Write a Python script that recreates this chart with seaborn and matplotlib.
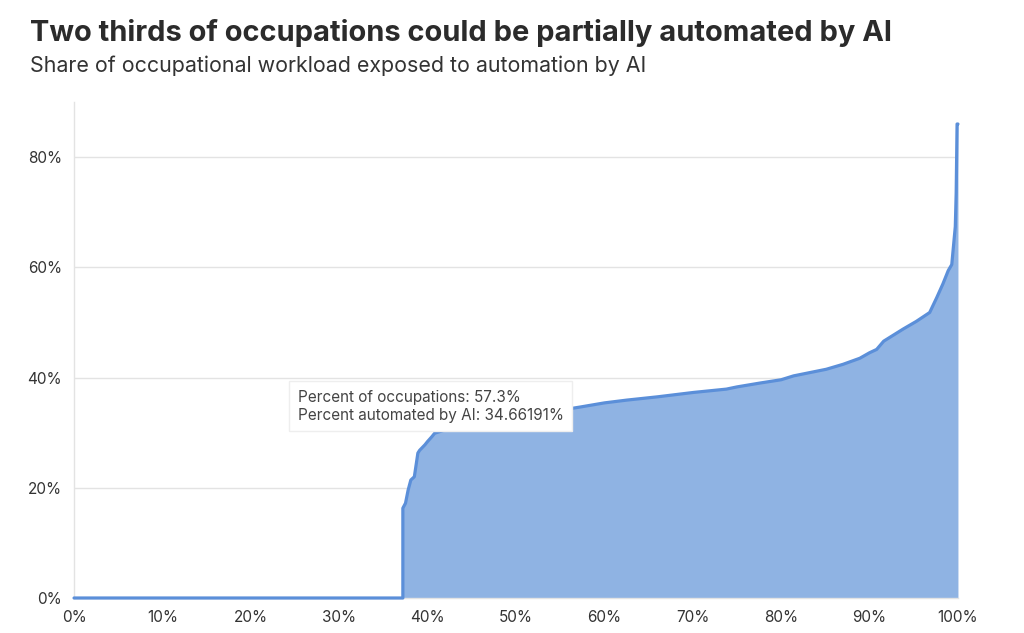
import numpy as np
import pandas as pd
import seaborn as sns
import matplotlib.pyplot as plt
from matplotlib.ticker import PercentFormatter

# curve (percent of occupations vs percent automated)
pct_occupations = [0, 37.2, 37.2, 37.5, 37.8, 38.1, 38.5, 38.9, 39.1, 39.7, 40.0, 40.5,
                   40.8, 41.8, 43.3, 46.0, 50.0, 53.0, 55.7, 56.3, 57.3, 60.0, 62.5, 66.0,
                   70.1, 73.8, 75.0, 77.6, 80.0, 81.4, 85.1, 87.0, 88.9, 90.0, 90.8, 91.6,
                   93.8, 95.3, 96.8, 97.6, 98.3, 98.9, 99.3, 99.7, 99.8, 99.9, 100.0]
pct_automated = [0, 0, 16.3, 17.2, 19.6, 21.4, 22.0, 26.3, 26.8, 27.8, 28.4, 29.3,
                 29.9, 30.4, 30.6, 31.3, 32.3, 33.0, 33.6, 34.4, 34.66, 35.4, 35.9, 36.5,
                 37.3, 37.9, 38.3, 39.0, 39.6, 40.3, 41.5, 42.4, 43.5, 44.5, 45.1, 46.6,
                 48.8, 50.2, 51.8, 54.5, 57.0, 59.4, 60.5, 67.4, 73.5, 86.0, 86.0]

x_ticks = [0, 10, 20, 30, 40, 50, 60, 70, 80, 90, 100]
y_ticks = [0, 20, 40, 60, 80]

df = pd.DataFrame({'occ': pct_occupations, 'auto': pct_automated})

sns.set_style('white')
plt.rcParams['font.family'] = ['Inter', 'DejaVu Sans']

fig = plt.figure(figsize=(10.24, 6.33), dpi=100)
ax = fig.add_axes([0.0723, 0.0553, 0.8632, 0.7836])

line_col = '#5b8fd9'
fill_col = '#8fb3e3'

ax.fill_between(df['occ'], df['auto'], color=fill_col, lw=0, zorder=2)
sns.lineplot(data=df, x='occ', y='auto', color=line_col, linewidth=2.3, ax=ax,
             sort=False, estimator=None, zorder=3, clip_on=False)

ax.set_xlim(0, 100)
ax.set_ylim(0, 90)
ax.set_xticks(x_ticks)
ax.set_yticks(y_ticks)
ax.xaxis.set_major_formatter(PercentFormatter(decimals=0))
ax.yaxis.set_major_formatter(PercentFormatter(decimals=0))
ax.set_xlabel('')
ax.set_ylabel('')
ax.grid(axis='y', color='#e3e3e3', linewidth=1, zorder=0)
ax.tick_params(axis='both', colors='#dddddd', labelcolor='#333333', labelsize=11,
               length=5, width=1)
for s in ['top', 'right']:
    ax.spines[s].set_visible(False)
for s in ['left', 'bottom']:
    ax.spines[s].set_color('#e3e3e3')
    ax.spines[s].set_linewidth(1)

# tooltip
ax.text(25.3, 34.8, 'Percent of occupations: 57.3%\nPercent automated by AI: 34.66191%',
        fontsize=11, color='#444444', va='center', ha='left', linespacing=1.25, zorder=6,
        bbox=dict(boxstyle='square,pad=0.55', facecolor='white', edgecolor='#eeeeee'))

fig.text(0.029, 0.948, 'Two thirds of occupations could be partially automated by AI',
         fontsize=20.9, fontweight='bold', color='#2b2b2b', va='center')
fig.text(0.029, 0.896, 'Share of occupational workload exposed to automation by AI',
         fontsize=15.4, color='#333333', va='center')

fig.savefig('out.png', dpi=100)
